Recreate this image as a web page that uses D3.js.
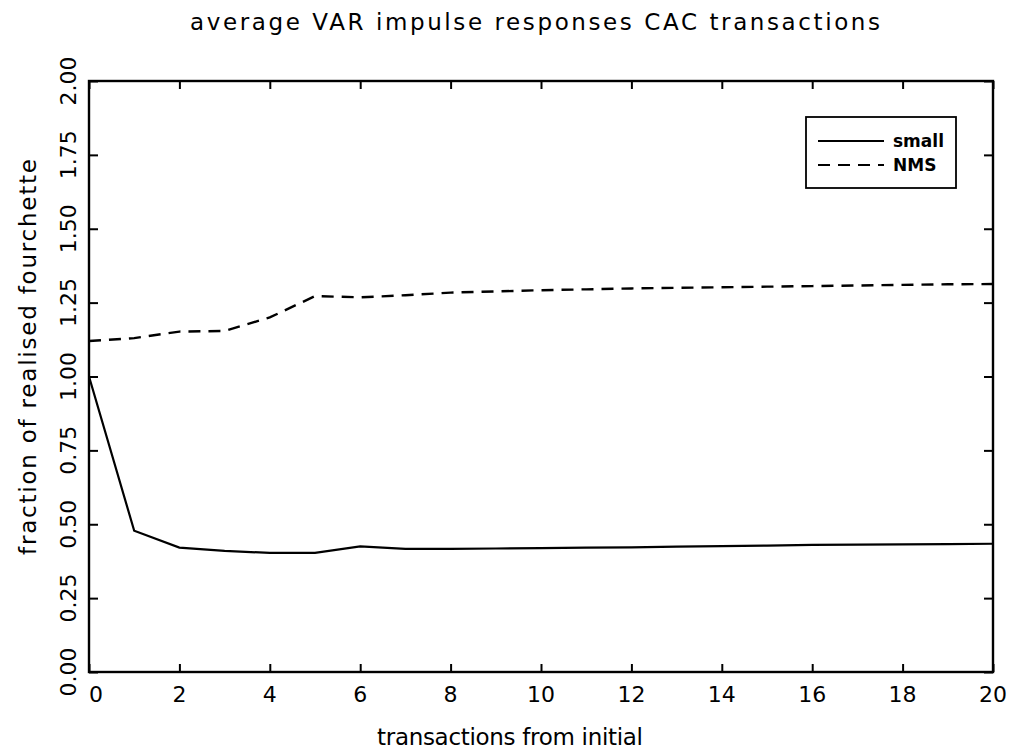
<!DOCTYPE html>
<html><head><meta charset="utf-8">
<script src="https://cdn.jsdelivr.net/npm/d3@7"></script>
<style>body{margin:0;background:#fff}svg{display:block}</style>
</head><body>
<svg id="c" width="1015" height="749"></svg>
<script>
const steps = [0,1,2,3,4,5,6,7,8,9,10,11,12,13,14,15,16,17,18,19,20];
const small = [1.00,0.478,0.421,0.410,0.403,0.403,0.425,0.417,0.417,0.418,0.419,0.421,0.422,0.424,0.426,0.428,0.430,0.431,0.432,0.433,0.434];
const nms = [1.12,1.13,1.152,1.154,1.20,1.272,1.268,1.275,1.284,1.288,1.292,1.295,1.298,1.300,1.302,1.304,1.306,1.308,1.310,1.312,1.313];
const xTicks = [0,2,4,6,8,10,12,14,16,18,20];
const yTicks = [0,0.25,0.5,0.75,1.0,1.25,1.5,1.75,2.0];
const title = "average VAR impulse responses CAC transactions";
const xLabel = "transactions from initial";
const yLabel = "fraction of realised fourchette";
const legendNames = ["small","NMS"];

const svg = d3.select("#c");
const L=89,R=993,T=81,B=672;
const x = d3.scaleLinear().domain([0,20]).range([L,R]);
const y = d3.scaleLinear().domain([0,2]).range([B,T]);
const font = "DejaVu Sans, sans-serif";

svg.append("rect").attr("x",L).attr("y",T).attr("width",R-L).attr("height",B-T)
  .attr("fill","none").attr("stroke","#000").attr("stroke-width",2.4);

const ax = (g,axis)=>{g.call(axis);g.select(".domain").remove();
  g.selectAll("line").attr("stroke","#000").attr("stroke-width",2);};
svg.append("g").attr("transform",`translate(0,${B})`)
  .call(g=>ax(g,d3.axisBottom(x).tickValues(xTicks).tickSize(-8).tickFormat("")));
svg.append("g").attr("transform",`translate(0,${T})`)
  .call(g=>ax(g,d3.axisTop(x).tickValues(xTicks).tickSize(-8).tickFormat("")));
svg.append("g").attr("transform",`translate(${L},0)`)
  .call(g=>ax(g,d3.axisLeft(y).tickValues(yTicks).tickSize(-9).tickFormat("")));
svg.append("g").attr("transform",`translate(${R},0)`)
  .call(g=>ax(g,d3.axisRight(y).tickValues(yTicks).tickSize(-9).tickFormat("")));

svg.append("g").selectAll("text").data(xTicks).join("text")
  .attr("x",d=>x(d)+(d===0?7:0)).attr("y",702)
  .attr("text-anchor","middle").attr("font-family",font).style("font-size","22px")
  .text(d=>d);
svg.append("g").selectAll("text").data(yTicks).join("text")
  .attr("transform",d=>`translate(76,${y(d)}) rotate(-90)`)
  .attr("text-anchor","middle").attr("font-family",font).style("font-size","22px")
  .text(d=>d3.format(".2f")(d));

const line = d3.line().x((d,i)=>x(steps[i])).y(d=>y(d));
svg.append("path").datum(small).attr("d",line).attr("fill","none")
  .attr("stroke","#000").attr("stroke-width",2.2);
svg.append("path").datum(nms).attr("d",line).attr("fill","none")
  .attr("stroke","#000").attr("stroke-width",2.4).attr("stroke-dasharray","12,8");

svg.append("rect").attr("x",806).attr("y",117).attr("width",150).attr("height",71)
  .attr("fill","#fff").attr("stroke","#000").attr("stroke-width",1.8);
const lg = svg.append("g");
lg.append("line").attr("x1",818).attr("x2",884).attr("y1",141).attr("y2",141)
  .attr("stroke","#000").attr("stroke-width",2);
lg.append("line").attr("x1",818).attr("x2",884).attr("y1",165).attr("y2",165)
  .attr("stroke","#000").attr("stroke-width",2).attr("stroke-dasharray","12,8");
lg.selectAll("text").data(legendNames).join("text")
  .attr("x",893).attr("y",(d,i)=>147+i*24).attr("font-family",font)
  .style("font-size","17px").attr("font-weight","bold").text(d=>d);

svg.append("text").attr("x",535).attr("y",30).attr("text-anchor","middle")
  .attr("font-family",font).style("font-size","23px")
  .attr("textLength",690).attr("lengthAdjust","spacing").text(title);
svg.append("text").attr("x",510).attr("y",745).attr("text-anchor","middle")
  .attr("font-family",font).style("font-size","23px")
  .attr("textLength",266).attr("lengthAdjust","spacing").text(xLabel);
svg.append("text").attr("transform","translate(36,357) rotate(-90)")
  .attr("text-anchor","middle").attr("font-family",font).style("font-size","23px")
  .attr("textLength",396).attr("lengthAdjust","spacing").text(yLabel);
</script>
</body></html>
